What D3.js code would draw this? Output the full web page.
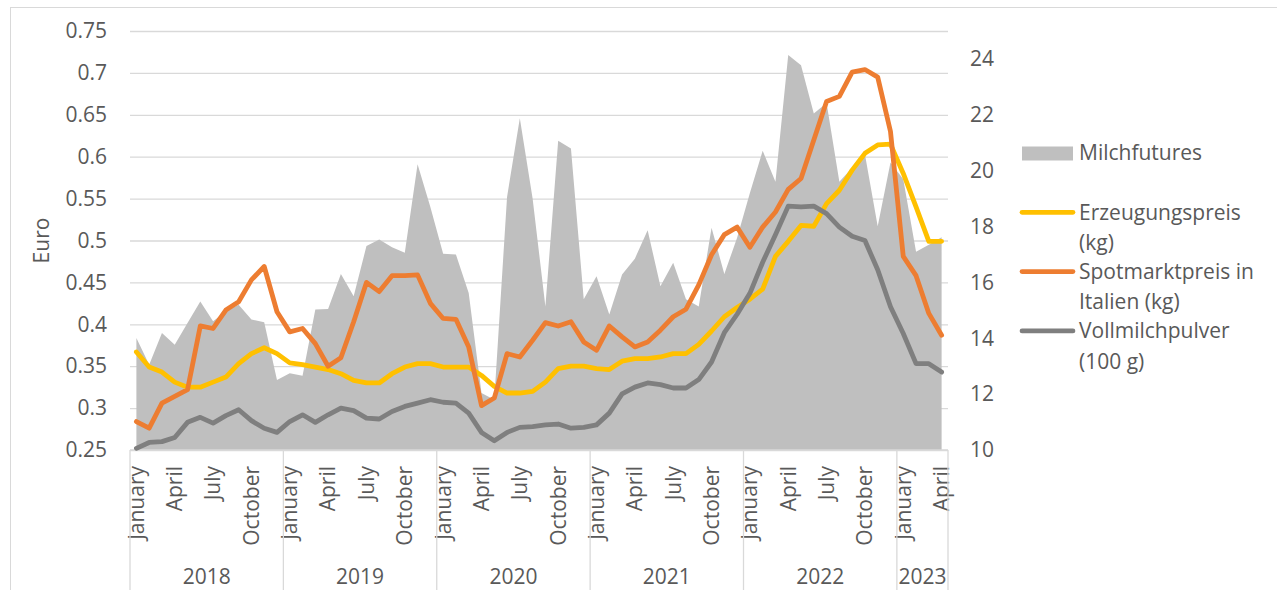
<!DOCTYPE html>
<html>
<head>
<meta charset="utf-8">
<script src="https://cdn.jsdelivr.net/npm/d3@7"></script>
<style>
  body { margin: 0; background: #ffffff; }
  text { font-family: "Open Sans", "Noto Sans", sans-serif; fill: #595959; }
</style>
</head>
<body>
<div id="chart"></div>
<script>
// months Jan 2018 .. Apr 2023
var monthNames = ["January", "February", "March", "April", "May", "June",
    "July", "August", "September", "October", "November", "December"];
var years = ["2018", "2019", "2020", "2021", "2022", "2023"];
var monthsPerYear = [12, 12, 12, 12, 12, 4];

var leftTicks = [0.25, 0.3, 0.35, 0.4, 0.45, 0.5, 0.55, 0.6, 0.65, 0.7, 0.75];
var rightTicks = [10, 12, 14, 16, 18, 20, 22, 24];

// Milchfutures (right axis)
var milchfutures = [
    14.01, 13.05, 14.19, 13.77, 14.55, 15.32, 14.61, 14.96, 15.20, 14.67, 14.57, 12.51,
    12.75, 12.66, 15.03, 15.05, 16.30, 15.50, 17.30, 17.54, 17.26, 17.06, 20.23, 18.70,
    17.03, 17.00, 15.62, 12.04, 11.80, 19.06, 21.88, 19.00, 15.14, 21.07, 20.79, 15.40,
    16.22, 14.85, 16.28, 16.85, 17.87, 15.86, 16.70, 15.40, 15.14, 17.96, 16.30, 17.60,
    19.20, 20.71, 19.60, 24.14, 23.77, 22.05, 22.42, 19.60, 20.10, 20.59, 18.01, 20.29,
    19.69, 17.10, 17.35, 17.62
];
// Erzeugungspreis (kg)
var erzeugungspreis = [
    0.367, 0.349, 0.343, 0.331, 0.325, 0.325, 0.331, 0.337, 0.353, 0.365, 0.372, 0.365,
    0.354, 0.352, 0.349, 0.346, 0.341, 0.333, 0.330, 0.330, 0.341, 0.349, 0.353, 0.353,
    0.349, 0.349, 0.349, 0.339, 0.326, 0.318, 0.318, 0.320, 0.331, 0.347, 0.350, 0.350,
    0.347, 0.346, 0.356, 0.359, 0.359, 0.361, 0.365, 0.365, 0.376, 0.392, 0.409, 0.420,
    0.430, 0.442, 0.481, 0.499, 0.518, 0.517, 0.544, 0.560, 0.584, 0.604, 0.614, 0.615,
    0.580, 0.540, 0.499, 0.499
];
// Spotmarktpreis in Italien (kg)
var spotmarktpreis = [
    0.284, 0.276, 0.306, 0.314, 0.322, 0.398, 0.395, 0.417, 0.427, 0.453, 0.469, 0.415,
    0.391, 0.395, 0.377, 0.350, 0.360, 0.403, 0.450, 0.439, 0.458, 0.458, 0.459, 0.425,
    0.407, 0.406, 0.373, 0.303, 0.312, 0.365, 0.361, 0.381, 0.402, 0.398, 0.403, 0.379,
    0.369, 0.398, 0.385, 0.373, 0.379, 0.393, 0.409, 0.418, 0.447, 0.483, 0.507, 0.516,
    0.492, 0.516, 0.534, 0.561, 0.574, 0.620, 0.666, 0.672, 0.701, 0.704, 0.695, 0.630,
    0.481, 0.458, 0.413, 0.387
];
// Vollmilchpulver (100 g)
var vollmilchpulver = [
    0.252, 0.259, 0.260, 0.265, 0.283, 0.289, 0.282, 0.291, 0.298, 0.285, 0.276, 0.271,
    0.284, 0.292, 0.283, 0.292, 0.300, 0.297, 0.288, 0.287, 0.296, 0.302, 0.306, 0.310,
    0.307, 0.306, 0.294, 0.271, 0.261, 0.271, 0.277, 0.278, 0.280, 0.281, 0.276, 0.277,
    0.280, 0.294, 0.317, 0.325, 0.330, 0.328, 0.324, 0.324, 0.334, 0.355, 0.390, 0.412,
    0.437, 0.474, 0.507, 0.541, 0.540, 0.541, 0.532, 0.516, 0.505, 0.500, 0.465, 0.421,
    0.389, 0.353, 0.353, 0.343
];

var lineSeries = [
    { name: "Erzeugungspreis (kg)", values: erzeugungspreis, color: "#FFC000" },
    { name: "Spotmarktpreis in Italien (kg)", values: spotmarktpreis, color: "#ED7D31" },
    { name: "Vollmilchpulver (100 g)", values: vollmilchpulver, color: "#7F7F7F" }
];
var legendLines = [
    ["Milchfutures"],
    ["Erzeugungspreis", "(kg)"],
    ["Spotmarktpreis in", "Italien (kg)"],
    ["Vollmilchpulver", "(100 g)"]
];

var width = 1277, height = 590;
var plot = { left: 130, right: 948, top: 31, bottom: 450 };
var gridColor = "#d9d9d9";
var fontSize = 21;

var nMonths = d3.sum(monthsPerYear);
var idx = d3.range(nMonths);

var svg = d3.select("#chart")
    .append("svg")
    .attr("width", width)
    .attr("height", height);

svg.append("rect")
    .attr("x", 10.5).attr("y", 7.5)
    .attr("width", width).attr("height", height)
    .attr("fill", "#ffffff")
    .attr("stroke", gridColor);

var x = d3.scaleBand()
    .domain(idx)
    .range([plot.left, plot.right])
    .padding(0);
var xc = function(i) { return x(i) + x.bandwidth() / 2; };

var yLeft = d3.scaleLinear()
    .domain([0.25, 0.75])
    .range([plot.bottom, plot.top]);

var yRight = d3.scaleLinear()
    .domain([10, 25])
    .range([plot.bottom, plot.top]);

// left axis + gridlines
var leftAxis = svg.append("g")
    .attr("transform", "translate(" + plot.left + ",0)")
    .call(d3.axisLeft(yLeft)
        .tickValues(leftTicks)
        .tickFormat(function(d) { return String(d); })
        .tickSize(-(plot.right - plot.left))
        .tickPadding(23));
leftAxis.select(".domain").remove();
leftAxis.selectAll("line").attr("stroke", gridColor).attr("stroke-width", 1.3);
leftAxis.selectAll("text").attr("font-size", fontSize).attr("fill", "#595959")
    .style("font-family", "'Open Sans', sans-serif");

// right axis
var rightAxis = svg.append("g")
    .attr("transform", "translate(" + plot.right + ",0)")
    .call(d3.axisRight(yRight)
        .tickValues(rightTicks)
        .tickSize(0)
        .tickPadding(22));
rightAxis.select(".domain").remove();
rightAxis.selectAll("text").attr("font-size", fontSize).attr("fill", "#595959")
    .style("font-family", "'Open Sans', sans-serif");

// Milchfutures area on the right axis
var area = d3.area()
    .x(function(d, i) { return xc(i); })
    .y0(plot.bottom)
    .y1(function(d) { return yRight(d); });

svg.append("path")
    .datum(milchfutures)
    .attr("d", area)
    .attr("fill", "#BFBFBF");

// baseline
svg.append("line")
    .attr("x1", plot.left).attr("x2", plot.right)
    .attr("y1", plot.bottom).attr("y2", plot.bottom)
    .attr("stroke", gridColor).attr("stroke-width", 1.3);

// lines on the left axis
var line = d3.line()
    .x(function(d, i) { return xc(i); })
    .y(function(d) { return yLeft(d); });

svg.selectAll(".series")
    .data(lineSeries)
    .enter().append("path")
    .attr("class", "series")
    .attr("d", function(d) { return line(d.values); })
    .attr("fill", "none")
    .attr("stroke", function(d) { return d.color; })
    .attr("stroke-width", 4.8)
    .attr("stroke-linejoin", "round")
    .attr("stroke-linecap", "round");

// category axis: months (every 3rd) and years
svg.selectAll(".month")
    .data(idx.filter(function(i) { return i % 3 === 0; }))
    .enter().append("text")
    .attr("class", "month")
    .attr("transform", function(i) { return "translate(" + xc(i) + ",466)rotate(-90)"; })
    .attr("text-anchor", "end")
    .attr("dy", "0.35em")
    .attr("font-size", fontSize)
    .text(function(i) { return monthNames[i % 12]; });

var yearStart = [0];
monthsPerYear.forEach(function(n, k) { yearStart.push(yearStart[k] + n); });

svg.selectAll(".ysep")
    .data(yearStart)
    .enter().append("line")
    .attr("class", "ysep")
    .attr("x1", function(s) { return s < nMonths ? x(s) : plot.right; })
    .attr("x2", function(s) { return s < nMonths ? x(s) : plot.right; })
    .attr("y1", plot.bottom).attr("y2", height)
    .attr("stroke", gridColor).attr("stroke-width", 1.3);

svg.selectAll(".year")
    .data(years)
    .enter().append("text")
    .attr("class", "year")
    .attr("x", function(d, k) {
        var a = x(yearStart[k]);
        var b = yearStart[k + 1] < nMonths ? x(yearStart[k + 1]) : plot.right;
        return (a + b) / 2;
    })
    .attr("y", 584)
    .attr("text-anchor", "middle")
    .attr("font-size", fontSize)
    .text(function(d) { return d; });

// axis title
svg.append("text")
    .attr("transform", "translate(42," + ((plot.top + plot.bottom) / 2) + ")rotate(-90)")
    .attr("text-anchor", "middle")
    .attr("dy", "0.35em")
    .attr("font-size", fontSize)
    .text("Euro");

// legend
var legendX = 1021, legendY = 153, step = 59.3, lineH = 30.5;
var legend = svg.append("g");

legend.append("rect")
    .attr("x", legendX + 1).attr("y", legendY - 6.5)
    .attr("width", 51).attr("height", 14)
    .attr("fill", "#BFBFBF");

lineSeries.forEach(function(s, k) {
    legend.append("line")
        .attr("x1", legendX + 1).attr("x2", legendX + 52)
        .attr("y1", legendY + step * (k + 1)).attr("y2", legendY + step * (k + 1))
        .attr("stroke", s.color)
        .attr("stroke-width", 4.7)
        .attr("stroke-linecap", "round");
});

legendLines.forEach(function(lines, k) {
    lines.forEach(function(t, j) {
        legend.append("text")
            .attr("x", legendX + 58)
            .attr("y", legendY + step * k + lineH * j)
            .attr("dy", "0.35em")
            .attr("font-size", fontSize)
            .text(t);
    });
});
</script>
</body>
</html>
